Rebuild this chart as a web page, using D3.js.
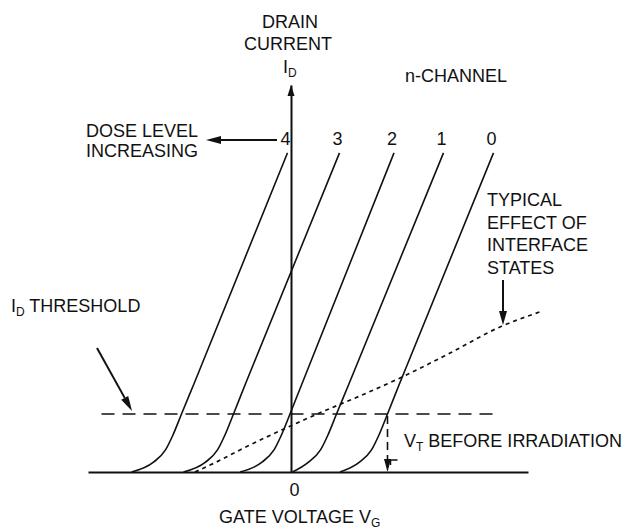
<!DOCTYPE html>
<html>
<head>
<meta charset="utf-8">
<script src="https://cdn.jsdelivr.net/npm/d3@7"></script>
<style>
  body { margin: 0; background: #fff; }
  svg text { font-family: "Liberation Sans", Arial, Helvetica, sans-serif; font-size: 18px; fill: #111; }
</style>
</head>
<body>
<script>
'use strict';

// dose levels, left curve = highest dose
const doseLabels = ['4', '3', '2', '1', '0'];

// drain current points shared by every curve (threshold = 1)
const curveId = [0, 0.17, 0.38, 0.62, 1.0, 1.5, 5.5];

// gate voltage at the currents above (0 = I_D axis)
const dose4Vg = [-3.19, -2.75, -2.51, -2.37, -2.19, -1.95, -0.07];
const dose3Vg = [-2.15, -1.71, -1.47, -1.33, -1.15, -0.92, 0.97];
const dose2Vg = [-1.02, -0.58, -0.34, -0.20, -0.02, 0.21, 2.06];
const dose1Vg = [0.03, 0.35, 0.59, 0.73, 0.91, 1.15, 3.05];
const dose0Vg = [0.98, 1.37, 1.61, 1.75, 1.93, 2.16, 4.05];
const curvesVg = [dose4Vg, dose3Vg, dose2Vg, dose1Vg, dose0Vg];

// typical effect of interface states (dotted)
const interfaceVg = [-1.92, -1.52, -1.02, -0.52, 0.11, 0.58, 1.51, 2.18, 3.18, 4.18, 4.98];
const interfaceId = [0, 0.16, 0.38, 0.59, 0.84, 1.02, 1.36, 1.62, 2.05, 2.50, 2.76];

// I_D threshold line and V_T before irradiation
const thresholdId = 1.0;
const thresholdVg = [-3.79, 4.18];
const vtBeforeVg = 1.93;
const xTickValues = [0];

(function() {

  let svg = "";
  let x, y;

  window.onload = function() {
    svg = d3.select('body')
      .append('svg')
      .attr('width', 630)
      .attr('height', 532);

    svg.append('rect')
      .attr('width', 630)
      .attr('height', 532)
      .attr('fill', '#fff');

    x = d3.scaleLinear()
      .domain([-4.06, 4.74])
      .range([88, 528]);

    y = d3.scaleLinear()
      .domain([0, 6.67])
      .range([472, 85]);

    makeAxes();
    drawCurves();
    drawGuides();
    makeLabels();
  }

  // filled arrow head with its tip at (x2, y2)
  function arrow(x1, y1, x2, y2, len, wid, drawShaft) {
    let a = Math.atan2(y2 - y1, x2 - x1);
    let bx = x2 - len * Math.cos(a), by = y2 - len * Math.sin(a);
    let px = -Math.sin(a) * wid / 2, py = Math.cos(a) * wid / 2;
    if (drawShaft) {
      svg.append('line')
        .attr('x1', x1).attr('y1', y1)
        .attr('x2', bx).attr('y2', by)
        .attr('stroke', '#111')
        .attr('stroke-width', 2);
    }
    svg.append('path')
      .attr('d', 'M' + x2 + ',' + y2 + 'L' + (bx + px) + ',' + (by + py) +
        'L' + (bx - px) + ',' + (by - py) + 'Z')
      .attr('fill', '#111');
  }

  function makeAxes() {
    let xAxis = svg.append('g')
      .attr('transform', 'translate(0,' + y(0) + ')')
      .call(d3.axisBottom(x).tickValues(xTickValues).tickSize(0).tickPadding(11));
    xAxis.select('.domain').attr('stroke', '#111').attr('stroke-width', 2);
    xAxis.selectAll('text')
      .attr('font-size', null)
      .attr('font-family', null)
      .attr('dx', 3);
    xAxis.attr('font-size', null).attr('font-family', null);

    let yAxis = svg.append('g')
      .attr('transform', 'translate(' + x(0) + ',0)')
      .call(d3.axisLeft(y).tickValues([]).tickSizeOuter(0));
    yAxis.select('.domain').attr('stroke', '#111').attr('stroke-width', 2);

    arrow(x(0), y(6), x(0), y(6.67), 11, 7, false);
  }

  function drawCurves() {
    let line = d3.line()
      .x(d => x(d[0]))
      .y(d => y(d[1]))
      .curve(d3.curveMonotoneX);

    curvesVg.forEach((vg, i) => {
      svg.append('path')
        .datum(d3.zip(vg, curveId))
        .attr('fill', 'none')
        .attr('stroke', '#111')
        .attr('stroke-width', 1.6)
        .attr('d', line);

      svg.append('text')
        .attr('x', x(vg[vg.length - 1]) - 2)
        .attr('y', 145)
        .attr('text-anchor', 'middle')
        .text(doseLabels[i]);
    });

    svg.append('path')
      .datum(d3.zip(interfaceVg, interfaceId))
      .attr('fill', 'none')
      .attr('stroke', '#111')
      .attr('stroke-width', 1.7)
      .attr('stroke-dasharray', '4,4')
      .attr('d', line);
  }

  function drawGuides() {
    svg.append('line')
      .attr('x1', x(thresholdVg[0]))
      .attr('x2', x(thresholdVg[1]))
      .attr('y1', y(thresholdId))
      .attr('y2', y(thresholdId))
      .attr('stroke', '#111')
      .attr('stroke-width', 1.6)
      .attr('stroke-dasharray', '13,8');

    // V_T before irradiation marker
    let vx = x(vtBeforeVg);
    svg.append('line')
      .attr('x1', vx).attr('x2', vx)
      .attr('y1', y(thresholdId) + 2)
      .attr('y2', y(0) - 12)
      .attr('stroke', '#111')
      .attr('stroke-width', 1.6)
      .attr('stroke-dasharray', '8,5');
    arrow(vx, y(0) - 20, vx, y(0), 13, 7, false);
    svg.append('path')
      .attr('d', 'M' + (vx + 3) + ',' + 465 + 'V' + 460 + 'H' + (vx + 10))
      .attr('fill', 'none')
      .attr('stroke', '#111')
      .attr('stroke-width', 1.5);
  }

  // annotations and axis titles
  function makeLabels() {
    svg.append('text').attr('x', 290).attr('y', 28).attr('text-anchor', 'middle').text('DRAIN');
    svg.append('text').attr('x', 288).attr('y', 50).attr('text-anchor', 'middle').text('CURRENT');
    let id = svg.append('text').attr('x', 283).attr('y', 73);
    id.append('tspan').text('I');
    id.append('tspan').attr('font-size', 12).attr('dy', 4).text('D');

    svg.append('text').attr('x', 405).attr('y', 82).text('n-CHANNEL');

    svg.append('text').attr('x', 198).attr('y', 137).attr('text-anchor', 'end').text('DOSE LEVEL');
    svg.append('text').attr('x', 198).attr('y', 157).attr('text-anchor', 'end').text('INCREASING');
    arrow(277, 140, 206, 140, 15, 8, true);

    ['TYPICAL', 'EFFECT OF', 'INTERFACE', 'STATES'].forEach((s, i) => {
      svg.append('text').attr('x', 487).attr('y', 206 + i * 22.5).text(s);
    });
    arrow(503, 280, 503, 325, 14, 8, true);

    let th = svg.append('text').attr('x', 11).attr('y', 312);
    th.append('tspan').text('I');
    th.append('tspan').attr('font-size', 12).attr('dy', 4).text('D');
    th.append('tspan').attr('dy', -4).text(' THRESHOLD');
    arrow(97, 348, 132, 411, 15, 8, true);

    let vt = svg.append('text').attr('x', 404).attr('y', 447);
    vt.append('tspan').text('V');
    vt.append('tspan').attr('font-size', 12).attr('dy', 4).text('T');
    vt.append('tspan').attr('dy', -4).text(' BEFORE IRRADIATION');

    let g = svg.append('text').attr('x', 219).attr('y', 523);
    g.append('tspan').text('GATE VOLTAGE V');
    g.append('tspan').attr('font-size', 12).attr('dy', 4).text('G');
  }
})();
</script>
</body>
</html>
